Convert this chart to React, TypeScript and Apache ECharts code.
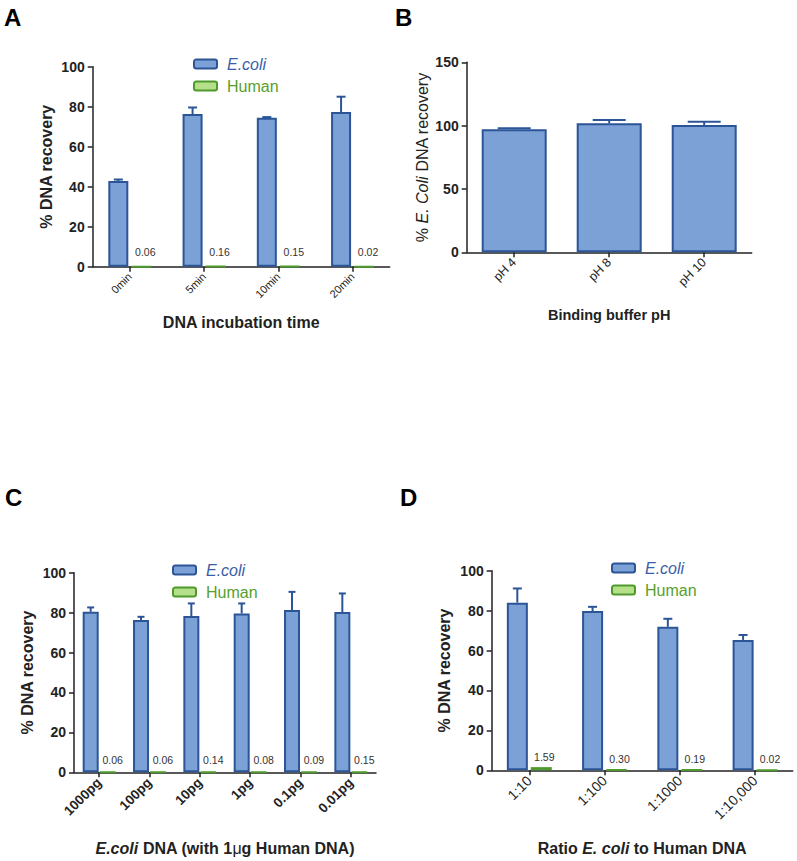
import React, { useEffect, useRef } from "react";
import * as echarts from "echarts";

// ---------- data ----------
const catsA = ["0min", "5min", "10min", "20min"];
const ecoliA = [42.8, 76.3, 74.5, 77.3];
const ecoliErrA = [0.8, 3.3, 0.3, 7.7];
const humanA = [0.06, 0.16, 0.15, 0.02];

const catsB = ["pH 4", "pH 8", "pH 10"];
const ecoliB = [97.1, 101.8, 100.5];
const ecoliErrB = [0.8, 2.6, 2.6];

const catsC = ["1000pg", "100pg", "10pg", "1pg", "0.1pg", "0.01pg"];
const ecoliC = [80.4, 76.3, 78.3, 79.6, 81.3, 80.3];
const ecoliErrC = [2.2, 1.6, 6.3, 5.0, 9.1, 9.3];
const humanC = [0.06, 0.06, 0.14, 0.08, 0.09, 0.15];

const catsD = ["1:10", "1:100", "1:1000", "1:10,000"];
const ecoliD = [84.0, 79.8, 71.9, 65.3];
const ecoliErrD = [7.1, 2.1, 4.0, 2.5];
const humanD = [1.59, 0.30, 0.19, 0.02];

// ---------- styles ----------
const FONT = '"Liberation Sans", Arial, Helvetica, sans-serif';
const INK = "#222222";
const BLUE_FILL = "#7ba1d7";
const BLUE_EDGE = "#2c5597";
const GREEN_FILL = "#b5df88";
const GREEN_EDGE = "#4f9a2d";
const BLUE_TEXT = "#3b5ea6";
const GREEN_TEXT = "#56a02c";

const errRender = (offsetPx: number, cap: number) => (params: any, api: any) => {
  const x = api.value(0);
  const v = api.value(1);
  const e = api.value(2);
  const base = api.coord([x, v]);
  const top = api.coord([x, v + e]);
  const cx = base[0] + offsetPx;
  const st = { stroke: BLUE_EDGE, lineWidth: 2, fill: "none" };
  return {
    type: "group",
    children: [
      { type: "line", shape: { x1: cx, y1: base[1], x2: cx, y2: top[1] }, style: st },
      { type: "line", shape: { x1: cx - cap / 2, y1: top[1], x2: cx + cap / 2, y2: top[1] }, style: st },
    ],
  };
};

const yAxisCfg = (gridIndex: number, max: number, interval: number, name: string, nameGap: number, nameStyle: any) => ({
  type: "value",
  gridIndex,
  min: 0,
  max,
  interval,
  name,
  nameLocation: "middle",
  nameGap,
  nameMoveOverlap: false,
  nameTextStyle: nameStyle,
  axisLine: { show: true, lineStyle: { color: INK, width: 1.5 } },
  axisTick: { show: true, length: 5, lineStyle: { color: INK, width: 1.5 } },
  axisLabel: { fontFamily: FONT, fontSize: 14, fontWeight: "bold", color: INK, margin: 8 },
  splitLine: { show: false },
});

const xAxisCfg = (gridIndex: number, data: string[], label: any, name: string, nameGap: number, nameStyle: any) => ({
  type: "category",
  gridIndex,
  data,
  name,
  nameLocation: "middle",
  nameGap,
  nameMoveOverlap: false,
  nameTextStyle: nameStyle,
  axisLine: { show: true, onZero: false, lineStyle: { color: INK, width: 1.5 } },
  axisTick: { show: true, alignWithLabel: true, length: 5, lineStyle: { color: INK, width: 1.5 } },
  axisLabel: { rotate: 45, interval: 0, fontFamily: FONT, color: INK, margin: 8, ...label },
  splitLine: { show: false },
});

const boldName = { fontFamily: FONT, fontSize: 16, fontWeight: "bold", color: INK };

const ecoliBar = (axisIndex: number, data: number[], barWidth: number, barGap: string) => ({
  type: "bar",
  name: "E.coli",
  xAxisIndex: axisIndex,
  yAxisIndex: axisIndex,
  data,
  barWidth,
  barGap,
  itemStyle: { color: BLUE_FILL, borderColor: BLUE_EDGE, borderWidth: 2 },
  z: 2,
});

const humanBar = (axisIndex: number, data: number[], barWidth: number, dist: number, off: number) => ({
  type: "bar",
  name: "Human",
  xAxisIndex: axisIndex,
  yAxisIndex: axisIndex,
  data,
  barWidth,
  itemStyle: { color: GREEN_FILL, borderColor: GREEN_EDGE, borderWidth: 2 },
  label: {
    show: true,
    position: "top",
    distance: dist,
    offset: [off, 0],
    formatter: (p: any) => Number(p.value).toFixed(2),
    fontFamily: FONT,
    fontSize: 10.5,
    color: "#333333",
  },
  z: 2,
});

const errSeries = (axisIndex: number, vals: number[], errs: number[], offset: number, cap: number) => ({
  type: "custom",
  name: "err" + axisIndex,
  xAxisIndex: axisIndex,
  yAxisIndex: axisIndex,
  data: vals.map((v, i) => [i, v, errs[i]]),
  renderItem: errRender(offset, cap),
  z: 3,
  silent: true,
});

const legendCfg = (left: number, top: number) => ({
  orient: "vertical",
  left,
  top,
  itemWidth: 23,
  itemHeight: 9,
  itemGap: 4,
  icon: "roundRect",
  selectedMode: false,
  textStyle: { fontFamily: FONT, fontSize: 16, lineHeight: 18, padding: [0, 0, 0, 5] },
  data: [
    {
      name: "E.coli",
      itemStyle: { color: BLUE_FILL, borderColor: BLUE_EDGE, borderWidth: 2 },
      textStyle: { fontStyle: "italic", color: BLUE_TEXT },
    },
    {
      name: "Human",
      itemStyle: { color: GREEN_FILL, borderColor: GREEN_EDGE, borderWidth: 2 },
      textStyle: { color: GREEN_TEXT },
    },
  ],
});

const panelLetter = (t: string, left: number, top: number) => ({
  type: "text",
  left,
  top,
  style: { text: t, fontFamily: FONT, fontSize: 24, fontWeight: "bold", fill: "#000" },
});

export default function App() {
  const ref = useRef<HTMLDivElement>(null);
  useEffect(() => {
    if (!ref.current) return;
    const chart = echarts.init(ref.current, undefined, { renderer: "svg" });
    const option: any = {
      animation: false,
      backgroundColor: "#ffffff",
      grid: [
        { left: 92.7, top: 66.7, width: 297, height: 200, outerBoundsMode: "none" },
        { left: 466.7, top: 62.3, width: 285, height: 190, outerBoundsMode: "none" },
        { left: 74, top: 572.7, width: 302, height: 199.6, outerBoundsMode: "none" },
        { left: 491.7, top: 570.7, width: 301, height: 199.6, outerBoundsMode: "none" },
      ],
      xAxis: [
        xAxisCfg(0, catsA, { fontSize: 11 }, "DNA incubation time", 48, boldName),
        xAxisCfg(1, catsB, { fontSize: 12.5 }, "Binding buffer pH", 55, { ...boldName, fontSize: 14.5 }),
        xAxisCfg(2, catsC, { fontSize: 13.5, fontWeight: "bold" },
          "{b|E.coli}{a| DNA (with 1}{m|\u03bc}{a|g Human DNA)}", 68,
          {
            rich: {
              a: { ...boldName },
              b: { ...boldName, fontStyle: "italic" },
              m: { fontFamily: FONT, fontSize: 16, color: INK },
            },
          }),
        xAxisCfg(3, catsD, { fontSize: 14 },
          "{a|Ratio }{b|E. coli}{a| to Human DNA}", 70,
          { rich: { a: { ...boldName }, b: { ...boldName, fontStyle: "italic" } } }),
      ],
      yAxis: [
        yAxisCfg(0, 100, 20, "% DNA recovery", 38, boldName),
        yAxisCfg(1, 150, 50, "{a|% }{b|E. Coli}{a| DNA recovery}", 36, {
          rich: {
            a: { fontFamily: FONT, fontSize: 16, color: INK },
            b: { fontFamily: FONT, fontSize: 16, color: INK, fontStyle: "italic" },
          },
        }),
        yAxisCfg(2, 100, 20, "% DNA recovery", 39, boldName),
        yAxisCfg(3, 100, 20, "% DNA recovery", 39, boldName),
      ],
      legend: [legendCfg(188, 50), legendCfg(167, 556), legendCfg(606, 554)],
      series: [
        ecoliBar(0, ecoliA, 20, "15%"),
        humanBar(0, humanA, 20, 8, 4),
        errSeries(0, ecoliA, ecoliErrA, -11.5, 9),
        {
          type: "bar",
          name: "E. coli pH",
          xAxisIndex: 1,
          yAxisIndex: 1,
          data: ecoliB,
          barWidth: 65,
          itemStyle: { color: BLUE_FILL, borderColor: BLUE_EDGE, borderWidth: 2 },
          z: 2,
        },
        errSeries(1, ecoliB, ecoliErrB, 0, 33),
        ecoliBar(2, ecoliC, 16, "6%"),
        humanBar(2, humanC, 16, 6, 5),
        errSeries(2, ecoliC, ecoliErrC, -8.5, 7),
        ecoliBar(3, ecoliD, 21, "14%"),
        humanBar(3, humanD, 21, 5, 3),
        errSeries(3, ecoliD, ecoliErrD, -12, 9),
      ],
      graphic: [
        panelLetter("A", 4, 5),
        panelLetter("B", 395, 5),
        panelLetter("C", 5, 485),
        panelLetter("D", 400, 485),
      ],
    };
    chart.setOption(option);
    return () => chart.dispose();
  }, []);
  return (
    <div
      ref={ref}
      style={{ position: "fixed", left: 0, top: 0, width: 797, height: 861, background: "#fff" }}
    />
  );
}
